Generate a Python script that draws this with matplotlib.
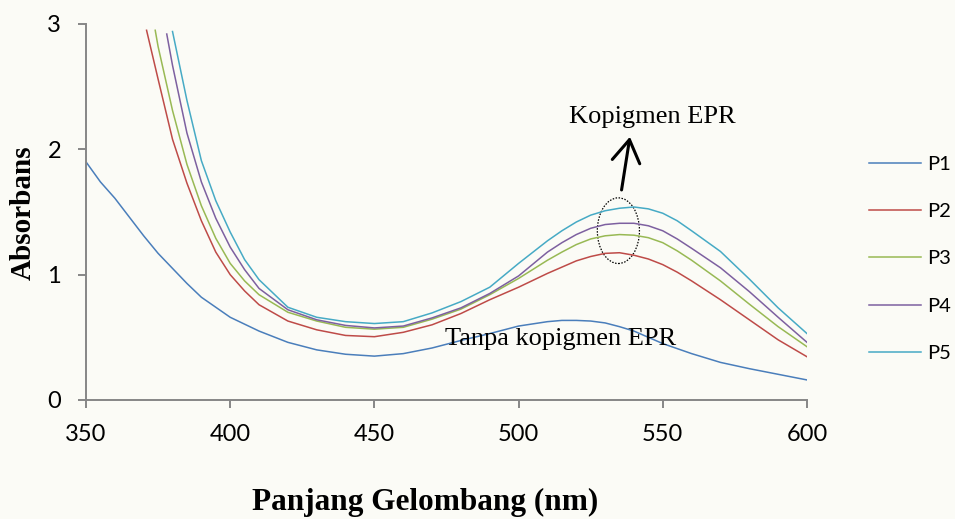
import matplotlib
matplotlib.use("Agg")
import matplotlib.pyplot as plt
from matplotlib.patches import Ellipse

# ---------------- data ----------------
wl1 = [350, 355, 360, 365, 370, 375, 380, 385, 390, 395, 400, 410, 420, 430, 440, 450,
       460, 470, 480, 490, 500, 510, 515, 520, 525, 530, 535, 540, 545, 550, 555, 560,
       570, 580, 590, 600]
p1 = [1.90, 1.74, 1.61, 1.46, 1.31, 1.17, 1.05, 0.93, 0.82, 0.74, 0.66, 0.55, 0.46, 0.40, 0.365, 0.35,
      0.37, 0.415, 0.475, 0.53, 0.59, 0.625, 0.635, 0.635, 0.63, 0.615, 0.585, 0.55, 0.50, 0.45, 0.41,
      0.37, 0.30, 0.25, 0.205, 0.16]

wl2 = [371, 375, 380, 385, 390, 395, 400, 405, 410, 420, 430, 440, 450, 460, 470, 480,
       490, 500, 510, 515, 520, 525, 530, 535, 540, 545, 550, 555, 560, 570, 580, 590, 600]
p2 = [2.95, 2.56, 2.08, 1.73, 1.43, 1.18, 1.00, 0.87, 0.76, 0.63, 0.56, 0.515, 0.505, 0.54, 0.60, 0.69,
      0.80, 0.90, 1.01, 1.06, 1.11, 1.145, 1.17, 1.175, 1.155, 1.125, 1.08, 1.02, 0.95, 0.80, 0.64,
      0.48, 0.345]

wl3 = [374, 375, 380, 385, 390, 395, 400, 405, 410, 420, 430, 440, 450, 460, 470, 480,
       490, 500, 510, 515, 520, 525, 530, 535, 540, 545, 550, 555, 560, 570, 580, 590, 600]
p3 = [2.95, 2.82, 2.31, 1.88, 1.55, 1.29, 1.09, 0.95, 0.84, 0.70, 0.63, 0.58, 0.565, 0.58, 0.645, 0.725,
      0.84, 0.97, 1.115, 1.18, 1.24, 1.285, 1.31, 1.32, 1.315, 1.295, 1.255, 1.19, 1.115, 0.95, 0.765,
      0.585, 0.425]

wl4 = [378, 380, 385, 390, 395, 400, 405, 410, 420, 430, 440, 450, 460, 470, 480,
       490, 500, 510, 515, 520, 525, 530, 535, 540, 545, 550, 555, 560, 570, 580, 590, 600]
p4 = [2.92, 2.67, 2.13, 1.74, 1.45, 1.22, 1.04, 0.89, 0.72, 0.64, 0.595, 0.575, 0.59, 0.655, 0.735,
      0.85, 0.99, 1.18, 1.255, 1.32, 1.37, 1.40, 1.41, 1.41, 1.39, 1.35, 1.285, 1.21, 1.055, 0.865,
      0.66, 0.46]

wl5 = [380, 385, 390, 395, 400, 405, 410, 420, 430, 440, 450, 460, 470, 480,
       490, 500, 510, 515, 520, 525, 530, 535, 540, 545, 550, 555, 560, 570, 580, 590, 600]
p5 = [2.94, 2.39, 1.91, 1.59, 1.34, 1.12, 0.96, 0.74, 0.66, 0.625, 0.61, 0.625, 0.695, 0.785,
      0.90, 1.09, 1.27, 1.35, 1.42, 1.475, 1.51, 1.53, 1.54, 1.525, 1.49, 1.43, 1.35, 1.185, 0.965,
      0.735, 0.53]

series_names = ["P1", "P2", "P3", "P4", "P5"]
series_colors = ["#4A7EBB", "#BE4B48", "#98B954", "#7D60A0", "#46AAC5"]

x_ticks = [350, 400, 450, 500, 550, 600]
y_ticks = [0, 1, 2, 3]

x_label = "Panjang Gelombang (nm)"
y_label = "Absorbans"
note_top = "Kopigmen EPR"
note_bottom = "Tanpa kopigmen EPR"

# ---------------- figure ----------------
W, H = 955, 519
fig = plt.figure(figsize=(W / 100, H / 100), dpi=100, facecolor="#fbfbf6")
ax = fig.add_axes([86 / W, 1 - 400 / H, (807 - 86) / W, (400 - 24) / H])
ax.set_facecolor("none")

series = [(wl1, p1), (wl2, p2), (wl3, p3), (wl4, p4), (wl5, p5)]
handles = []
for (x, y), name, c in zip(series, series_names, series_colors):
    h, = ax.plot(x, y, color=c, lw=1.1, label=name)
    handles.append(h)

ax.set_xlim(350, 600)
ax.set_ylim(0, 3)
ax.set_xticks(x_ticks)
ax.set_yticks(y_ticks)

axis_grey = "#868686"
for s in ["top", "right"]:
    ax.spines[s].set_visible(False)
for s in ["left", "bottom"]:
    ax.spines[s].set_color(axis_grey)
    ax.spines[s].set_linewidth(1.4)

ax.tick_params(axis="both", direction="out", length=6, width=1.4, color=axis_grey,
               labelcolor="black")
ax.tick_params(axis="x", pad=11)
ax.tick_params(axis="y", pad=12)
for lab in ax.get_xticklabels() + ax.get_yticklabels():
    lab.set_fontfamily("Lato")
    lab.set_fontsize(17)

# axis labels
ax.set_xlabel(x_label, family="Liberation Serif", weight="bold", fontsize=22.5)
ax.xaxis.label.set_verticalalignment("baseline")
ax.xaxis.set_label_coords((425.5 - 86) / 721, (400 - 510) / 376)
ax.set_ylabel(y_label, family="Liberation Serif", weight="bold", fontsize=21)
ax.yaxis.label.set_verticalalignment("center")
ax.yaxis.label.set_horizontalalignment("center")
ax.yaxis.set_label_coords((23 - 86) / 721, (400 - 212.5) / 376)

# annotations
ax.text(546.2, 2.21, note_top, family="Liberation Serif", fontsize=19,
        ha="center", va="baseline")
ax.text(514.4, 0.44, note_bottom, family="Liberation Serif", fontsize=19,
        ha="center", va="baseline")
ax.annotate("", xy=(538.6, 2.10), xytext=(535.7, 1.676),
            arrowprops=dict(arrowstyle="->,head_length=0.8,head_width=0.5",
                            lw=2.2, color="black", mutation_scale=20,
                            shrinkA=0, shrinkB=0))
ax.add_patch(Ellipse((534.6, 1.351), width=14.6, height=0.524, fill=False,
                     edgecolor="black", linestyle=(0, (1.2, 1.2)), lw=0.9))

# legend
leg = ax.legend(handles, series_names, loc="center left",
                bbox_to_anchor=(869 / W, 1 - 258.8 / H), bbox_transform=fig.transFigure,
                frameon=False, prop=dict(family="Lato", size=14.5),
                handlelength=2.6, handletextpad=0.3, labelspacing=1.5,
                borderpad=0, borderaxespad=0)

fig.savefig("out.png", dpi=100, facecolor=fig.get_facecolor())
